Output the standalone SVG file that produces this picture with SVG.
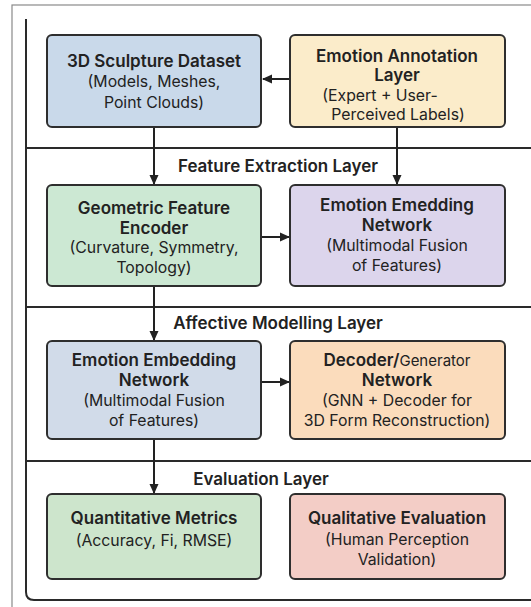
<svg xmlns="http://www.w3.org/2000/svg" width="531" height="607" viewBox="0 0 531 607">
  <style>
    .frame { fill: none; stroke: #8a8a8a; stroke-width: 1.2; }
    .lane { fill: none; stroke: #2a2a2a; stroke-width: 2; }
    .box { stroke: #2e2e2e; stroke-width: 2; }
    .t { font-family: Inter, "Liberation Sans", Arial, sans-serif; fill: #222; text-anchor: middle; }
    .h { font-size: 17px; font-weight: 600; }
    .s { font-size: 15.8px; }
    .layer { font-size: 17px; font-weight: 600; }
    .conn { stroke: #222; stroke-width: 2; fill: none; }
  </style>
  <defs>
    <marker id="arrow" markerWidth="10" markerHeight="10" refX="9" refY="5" orient="auto" markerUnits="userSpaceOnUse">
      <path d="M0,0.5 L10,5 L0,9.5 Z" fill="#222"/>
    </marker>
  </defs>

  <!-- page -->
  <rect x="0" y="0" width="531" height="607" fill="#ffffff"/>
  <rect x="12" y="5" width="530" height="610" fill="#fbfaf8" class="frame"/>

  <!-- swimlane frame -->
  <path class="lane" d="M26,19 V592 Q26,600 34,600 H540"/>
  <line class="lane" x1="26" y1="148" x2="531" y2="148"/>
  <line class="lane" x1="26" y1="307" x2="531" y2="307"/>
  <line class="lane" x1="26" y1="461" x2="531" y2="461"/>

  <!-- layer titles -->
  <text class="t layer" x="278" y="172">Feature Extraction Layer</text>
  <text class="t layer" x="278" y="329">Affective Modelling Layer</text>
  <text class="t layer" x="261" y="485">Evaluation Layer</text>

  <!-- connectors -->
  <g id="connectors">
    <line class="conn" x1="290" y1="79" x2="263" y2="79" marker-end="url(#arrow)"/>
    <line class="conn" x1="154" y1="127" x2="154" y2="184" marker-end="url(#arrow)"/>
    <line class="conn" x1="397" y1="127" x2="397" y2="184" marker-end="url(#arrow)"/>
    <line class="conn" x1="261" y1="237" x2="289" y2="237" marker-end="url(#arrow)"/>
    <line class="conn" x1="154" y1="286" x2="154" y2="340" marker-end="url(#arrow)"/>
    <line class="conn" x1="261" y1="382" x2="289" y2="382" marker-end="url(#arrow)"/>
    <line class="conn" x1="154" y1="439" x2="154" y2="493" marker-end="url(#arrow)"/>
  </g>

  <g id="sculpture-dataset">
    <rect class="box" x="47" y="35" width="214" height="92" rx="5" fill="#c9d9ea"/>
    <text class="t h" x="154" y="67">3D Sculpture Dataset</text>
    <text class="t s" x="154" y="87">(Models, Meshes,</text>
    <text class="t s" x="154" y="108">Point Clouds)</text>
  </g>

  <g id="emotion-annotation">
    <rect class="box" x="290" y="35" width="215" height="92" rx="5" fill="#fbecca"/>
    <text class="t h" x="397" y="62">Emotion Annotation</text>
    <text class="t h" x="397" y="81">Layer</text>
    <text class="t s" x="380" y="101">(Expert + User-</text>
    <text class="t s" x="398" y="120">Perceived Labels)</text>
  </g>

  <g id="geometric-encoder">
    <rect class="box" x="47" y="185" width="214" height="101" rx="5" fill="#cce8d3"/>
    <text class="t h" x="154" y="214">Geometric Feature</text>
    <text class="t h" x="154" y="234">Encoder</text>
    <text class="t s" x="154" y="253">(Curvature, Symmetry,</text>
    <text class="t s" x="154" y="273">Topology)</text>
  </g>

  <g id="emotion-emedding">
    <rect class="box" x="290" y="185" width="215" height="101" rx="5" fill="#dcd5ec"/>
    <text class="t h" x="397" y="211">Emotion Emedding</text>
    <text class="t h" x="397" y="231">Network</text>
    <text class="t s" x="397" y="251">(Multimodal Fusion</text>
    <text class="t s" x="397" y="271">of Features)</text>
  </g>

  <g id="emotion-embedding">
    <rect class="box" x="47" y="341" width="214" height="98" rx="5" fill="#d1dbe9"/>
    <text class="t h" x="154" y="366">Emotion Embedding</text>
    <text class="t h" x="154" y="386">Network</text>
    <text class="t s" x="154" y="406">(Multimodal Fusion</text>
    <text class="t s" x="154" y="426">of Features)</text>
  </g>

  <g id="decoder-generator">
    <rect class="box" x="290" y="341" width="215" height="98" rx="5" fill="#fbdcbc"/>
    <text class="t h" x="397" y="366">Decoder/<tspan font-weight="normal" font-size="15px">Generator</tspan></text>
    <text class="t h" x="397" y="386">Network</text>
    <text class="t s" x="397" y="406">(GNN + Decoder for</text>
    <text class="t s" x="397" y="426">3D Form Reconstruction)</text>
  </g>

  <g id="quantitative-metrics">
    <rect class="box" x="47" y="494" width="214" height="85" rx="5" fill="#cde5cc"/>
    <text class="t h" x="154" y="524">Quantitative Metrics</text>
    <text class="t s" x="154" y="546">(Accuracy, Fi, RMSE)</text>
  </g>

  <g id="qualitative-evaluation">
    <rect class="box" x="290" y="494" width="215" height="85" rx="5" fill="#f3cdc6"/>
    <text class="t h" x="397" y="524">Qualitative Evaluation</text>
    <text class="t s" x="397" y="545">(Human Perception</text>
    <text class="t s" x="397" y="565">Validation)</text>
  </g>
</svg>
